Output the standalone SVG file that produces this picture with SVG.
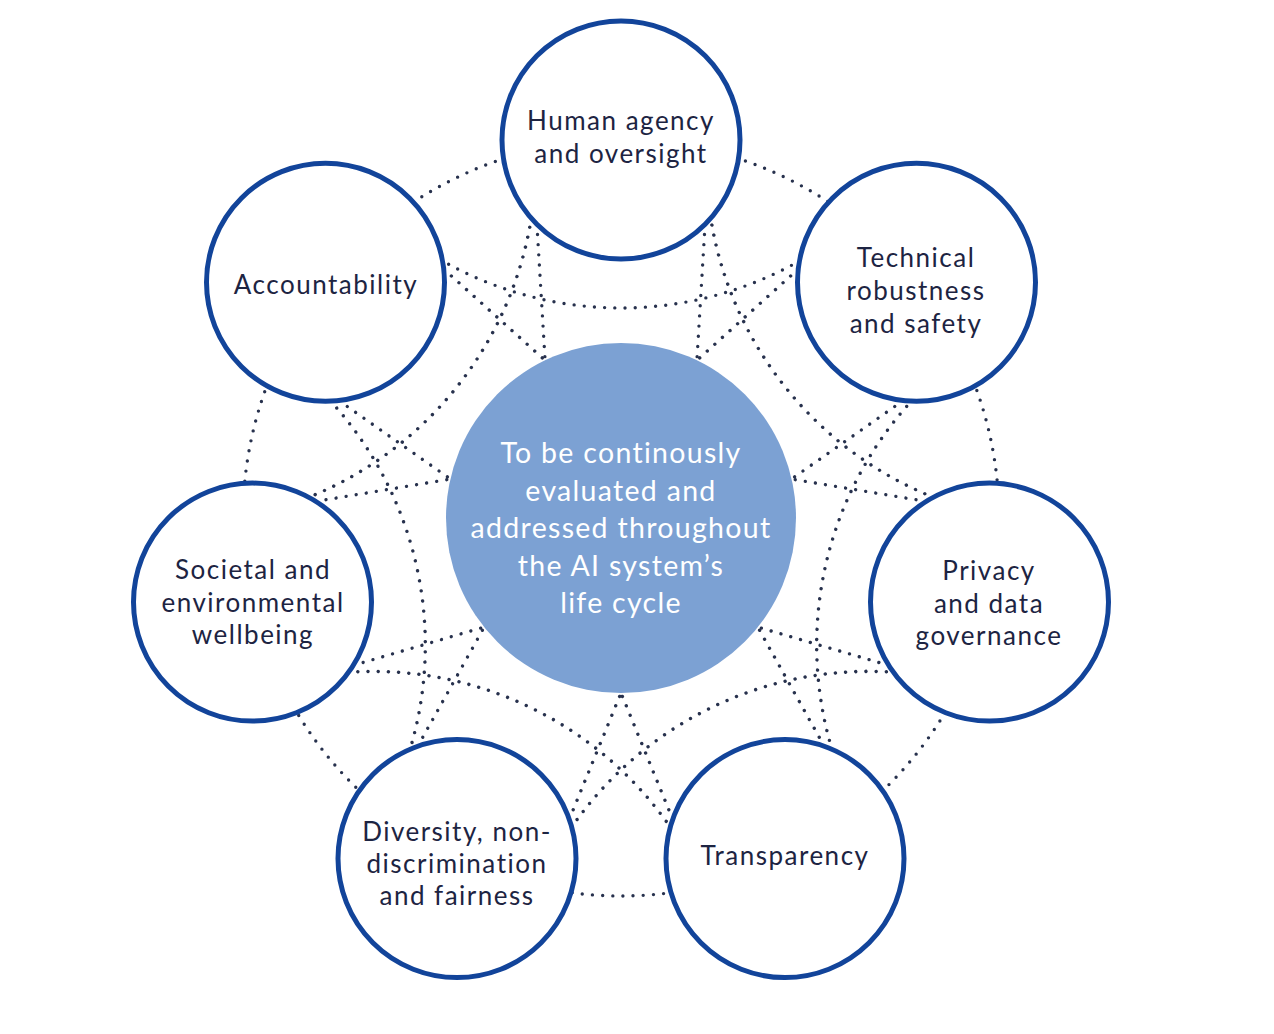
<svg xmlns="http://www.w3.org/2000/svg" width="1274" height="1034" viewBox="0 0 1274 1034">
<style>
.dot{fill:none;stroke:#27314d;stroke-width:3.4;stroke-linecap:round;stroke-dasharray:0 10.2}
.node{fill:#ffffff;stroke:#12449a;stroke-width:5}
.lbl{font-family:Lato,"Open Sans",sans-serif;font-size:26px;fill:#1d2442;text-anchor:middle;letter-spacing:1.5px}
.ctr{font-family:Lato,"Open Sans",sans-serif;font-size:28.5px;fill:#ffffff;text-anchor:middle;letter-spacing:1.3px}
</style>
<defs>
<path id="arcA" d="M 431 254.1 A 362 362 0 0 0 811 254.1"/>
<path id="lineR" d="M 705.7 214.1 L 696.3 370.3"/>
<path id="lineL" d="M 536.3 214.1 L 545.7 370.3"/>
<g id="unit">
<use href="#arcA"/>
<use href="#lineR"/>
<use href="#lineL"/>
</g>
</defs>
<rect width="1274" height="1034" fill="#ffffff"/>
<g id="connectors" class="dot">
<circle cx="621" cy="518" r="378"/>
<use href="#unit"/>
<use href="#unit" transform="rotate(51.4286 621 518)"/>
<use href="#unit" transform="rotate(102.8571 621 518)"/>
<use href="#unit" transform="rotate(154.2857 621 518)"/>
<use href="#unit" transform="rotate(205.7143 621 518)"/>
<use href="#unit" transform="rotate(257.1429 621 518)"/>
<use href="#unit" transform="rotate(308.5714 621 518)"/>
</g>
<g id="center">
<circle cx="621" cy="518" r="175" fill="#7ca1d3"/>
<text class="ctr"><tspan x="621" y="463">To be continously</tspan><tspan x="621" y="500.5">evaluated and</tspan><tspan x="621" y="538">addressed throughout</tspan><tspan x="621" y="575.5">the AI system’s</tspan><tspan x="621" y="613">life cycle</tspan></text>
</g>
<g id="human">
<circle class="node" cx="621" cy="140" r="119"/>
<text class="lbl"><tspan x="621" y="129.5">Human agency</tspan><tspan x="621" y="162.5">and oversight</tspan></text>
</g>
<g id="technical">
<circle class="node" cx="916.5" cy="282.3" r="119"/>
<text class="lbl"><tspan x="916" y="267">Technical</tspan><tspan x="916" y="300">robustness</tspan><tspan x="916" y="332.5">and safety</tspan></text>
</g>
<g id="privacy">
<circle class="node" cx="989.5" cy="602.1" r="119"/>
<text class="lbl"><tspan x="989" y="579.5">Privacy</tspan><tspan x="989" y="612.5">and data</tspan><tspan x="989" y="644.5">governance</tspan></text>
</g>
<g id="transparency">
<circle class="node" cx="785" cy="858.6" r="119"/>
<text class="lbl"><tspan x="785" y="864.5">Transparency</tspan></text>
</g>
<g id="diversity">
<circle class="node" cx="457" cy="858.6" r="119"/>
<text class="lbl"><tspan x="457" y="841">Diversity, non-</tspan><tspan x="457" y="873">discrimination</tspan><tspan x="457" y="905">and fairness</tspan></text>
</g>
<g id="societal">
<circle class="node" cx="252.5" cy="602.1" r="119"/>
<text class="lbl"><tspan x="253" y="578.5">Societal and</tspan><tspan x="253" y="612">environmental</tspan><tspan x="253" y="644">wellbeing</tspan></text>
</g>
<g id="accountability">
<circle class="node" cx="325.5" cy="282.3" r="119"/>
<text class="lbl"><tspan x="326" y="293.5">Accountability</tspan></text>
</g>
</svg>
